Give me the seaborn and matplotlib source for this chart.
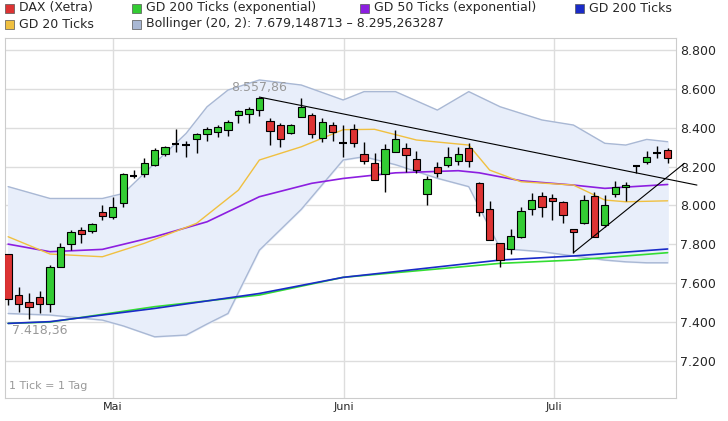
import numpy as np
import pandas as pd
import seaborn as sns
import matplotlib.pyplot as plt
from matplotlib.patches import Rectangle

# daily candles
opens = [7750, 7539, 7505, 7530, 7493, 7685, 7801, 7873, 7870, 7967, 7939, 8011, 8153, 8162, 8208, 8265,
         8313, 8310, 8340, 8368, 8380, 8388, 8465, 8471, 8491, 8436, 8414, 8374, 8457, 8465, 8345, 8414,
         8323, 8392, 8265, 8220, 8162, 8277, 8294, 8237, 8057, 8196, 8208, 8230, 8294, 8117, 7980, 7805,
         7774, 7839, 7980, 8048, 8036, 8019, 7877, 7911, 8048, 7899, 8059, 8093, 8203, 8225, 8268, 8285]
closes = [7517, 7493, 7479, 7493, 7685, 7788, 7865, 7851, 7904, 7945, 7994, 8162, 8155, 8217, 8285, 8299,
          8315, 8310, 8368, 8395, 8402, 8431, 8486, 8498, 8555, 8385, 8342, 8414, 8505, 8368, 8431, 8380,
          8323, 8323, 8229, 8131, 8292, 8342, 8260, 8182, 8134, 8168, 8251, 8263, 8230, 7968, 7822, 7719,
          7842, 7973, 8028, 7994, 8023, 7951, 7865, 8028, 7836, 8002, 8093, 8105, 8203, 8251, 8268, 8246]
highs = [7750, 7582, 7547, 7561, 7693, 7805, 7873, 7891, 7911, 8002, 8045, 8169, 8182, 8242, 8294, 8306,
         8392, 8332, 8374, 8402, 8414, 8440, 8491, 8505, 8558, 8448, 8426, 8419, 8551, 8474, 8448, 8431,
         8414, 8417, 8328, 8272, 8316, 8388, 8320, 8282, 8151, 8225, 8302, 8302, 8320, 8122, 8024, 7805,
         7877, 7994, 8062, 8071, 8059, 8024, 7877, 8054, 8071, 8054, 8127, 8122, 8208, 8282, 8306, 8294]
lows = [7488, 7453, 7418, 7448, 7453, 7681, 7770, 7805, 7856, 7925, 7928, 7994, 8139, 8148, 8203, 8254,
        8277, 8251, 8268, 8332, 8354, 8357, 8426, 8423, 8460, 8311, 8299, 8368, 8453, 8345, 8328, 8333,
        8251, 8302, 8213, 8131, 8071, 8277, 8174, 8165, 8002, 8148, 8199, 8208, 8196, 7946, 7822, 7681,
        7750, 7830, 7951, 7939, 7925, 7911, 7757, 7904, 7836, 7891, 8042, 8024, 8168, 8213, 8242, 8217]

# indicator lines, sampled at candle indices
gd20_idx = [0, 4, 9, 13, 18, 22, 24, 28, 32, 35, 39, 44, 46, 49, 54, 57, 59, 63]
gd20_val = [7839, 7750, 7736, 7805, 7908, 8079, 8234, 8302, 8390, 8392, 8337, 8311, 8182, 8122, 8105, 8028, 8019, 8024]
gd50_idx = [0, 4, 9, 14, 19, 24, 29, 32, 37, 43, 45, 49, 54, 57, 63]
gd50_val = [7801, 7762, 7774, 7839, 7916, 8045, 8114, 8139, 8168, 8179, 8168, 8127, 8105, 8088, 8108]
gd200_idx = [0, 4, 14, 24, 32, 47, 54, 63]
gd200_val = [7393, 7402, 7470, 7547, 7630, 7719, 7740, 7776]
gd200e_val = [7393, 7400, 7479, 7539, 7630, 7702, 7719, 7757]
boll_idx = [0, 4, 9, 11, 14, 17, 19, 21, 24, 28, 32, 34, 37, 41, 44, 47, 51, 54, 57, 59, 61, 63]
boll_up_val = [8097, 8036, 8036, 8062, 8217, 8371, 8508, 8594, 8646, 8620, 8543, 8586, 8586, 8491, 8586,
               8508, 8440, 8414, 8320, 8311, 8340, 8328]
boll_lo_val = [7444, 7436, 7410, 7380, 7324, 7333, 7390, 7444, 7770, 7980, 8234, 8251, 8210, 8140, 8097,
               7779, 7762, 7740, 7719, 7710, 7705, 7705]

tick_pos = [10, 32.1, 52.1]
tick_labels = ["Mai", "Juni", "Juli"]
y_ticks = [7200, 7400, 7600, 7800, 8000, 8200, 8400, 8600, 8800]

sns.set_style("white")
fig = plt.figure(figsize=(7.28, 4.21), dpi=100)
ax = fig.add_axes([5 / 728, 23 / 421, 671 / 728, 360 / 421])

ax.fill_between(boll_idx, boll_lo_val, boll_up_val, color="#e8eefa", zorder=1)
ax.plot(boll_idx, boll_up_val, color="#a9b8d4", lw=1, zorder=2)
ax.plot(boll_idx, boll_lo_val, color="#a9b8d4", lw=1, zorder=2)

sns.lineplot(x=gd200_idx, y=gd200e_val, color="#33dd33", lw=1.2, ax=ax, zorder=3)
sns.lineplot(x=gd200_idx, y=gd200_val, color="#1a2bc8", lw=1.2, ax=ax, zorder=3)
sns.lineplot(x=gd50_idx, y=gd50_val, color="#8c1ee0", lw=1.2, ax=ax, zorder=3)
sns.lineplot(x=gd20_idx, y=gd20_val, color="#f0c040", lw=1.0, ax=ax, zorder=3)

candles = pd.DataFrame({"o": opens, "c": closes, "h": highs, "l": lows})
for i, r in candles.iterrows():
    ax.vlines(i, r.l, r.h, color="black", lw=1, zorder=4)
    lo, hi = min(r.o, r.c), max(r.o, r.c)
    col = "#33cc33" if r.c > r.o else "#dd3333"
    if hi - lo < 8:
        ax.hlines((lo + hi) / 2, i - 0.35, i + 0.35, color="black", lw=1.5, zorder=5)
    else:
        ax.add_patch(Rectangle((i - 0.35, lo), 0.7, hi - lo, facecolor=col,
                               edgecolor="black", lw=0.8, zorder=5))

# trend lines
ax.plot([24, 65.8], [8558, 8105], color="black", lw=0.8, zorder=6, clip_on=False)
ax.plot([54, 64.6], [7757, 8217], color="black", lw=0.8, zorder=6, clip_on=False)

ax.text(24, 8575, "8.557,86", color="#999999", fontsize=9, ha="center", va="bottom")
ax.text(3, 7390, "7.418,36", color="#999999", fontsize=9, ha="center", va="top")
ax.text(0.1, 7070, "1 Tick = 1 Tag", color="#999999", fontsize=8, ha="left", va="center")

ax.set_xlim(-0.3, 63.8)
ax.set_ylim(7009, 8862)
ax.set_xticks(tick_pos)
ax.set_xticklabels(tick_labels, fontsize=8)
ax.set_yticks(y_ticks)
ax.set_yticklabels([f"{v:,}".replace(",", ".") for v in y_ticks], fontsize=9)
ax.yaxis.tick_right()
ax.tick_params(axis="both", length=0, pad=3)
ax.grid(True, color="#dddddd", lw=1)
ax.set_axisbelow(True)
for s in ax.spines.values():
    s.set_color("#cccccc")

legend_items = [
    (5, 8, "#dd3333", "DAX (Xetra)"),
    (132, 8, "#33cc33", "GD 200 Ticks (exponential)"),
    (360, 8, "#8c1ee0", "GD 50 Ticks (exponential)"),
    (575, 8, "#1a2bc8", "GD 200 Ticks"),
    (5, 24, "#f0c040", "GD 20 Ticks"),
    (132, 24, "#a9b8d4", "Bollinger (20, 2): 7.679,148713 \u2013 8.295,263287"),
]
for px, py, col, label in legend_items:
    fig.patches.append(Rectangle((px / 728, 1 - (py + 5) / 421), 9 / 728, 9 / 421,
                                 facecolor=col, edgecolor="#555555", lw=0.5,
                                 transform=fig.transFigure))
    fig.text((px + 14) / 728, 1 - py / 421, label, fontsize=9, va="center", ha="left")

fig.savefig("out.png", dpi=100)
